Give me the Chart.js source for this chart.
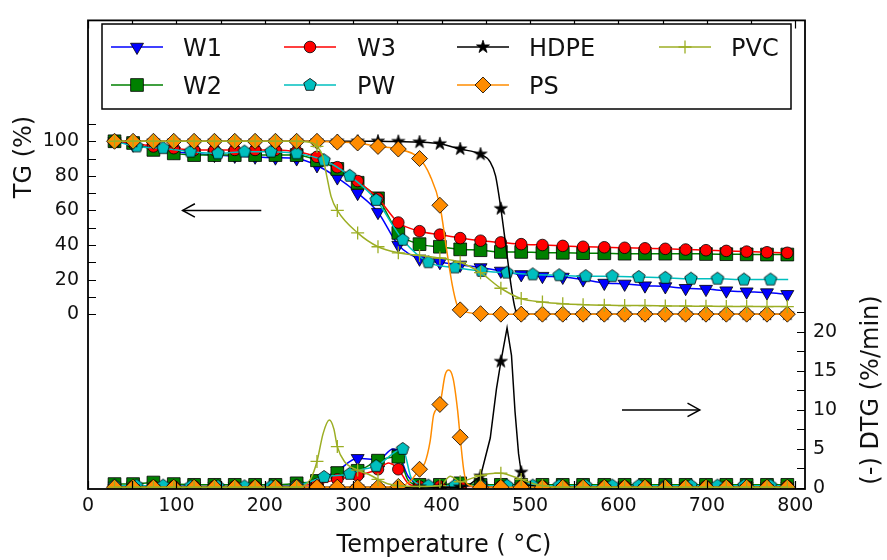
<!DOCTYPE html>
<html><head><meta charset="utf-8">
<script src="https://cdn.jsdelivr.net/npm/chart.js@4/dist/chart.umd.min.js"></script>
<style>html,body{margin:0;padding:0;background:#fff}#c{display:block}</style>
</head><body><canvas id="c" width="887" height="560"></canvas>
<script>
// ---------- data ----------
const X_TICKS = [0, 50, 100, 150, 200, 250, 300, 350, 400, 450, 500, 550, 600, 650, 700, 750, 800];
const TG_TICKS = [0, 10, 20, 30, 40, 50, 60, 70, 80, 90, 100, 110];
const DTG_TICKS = [0, 2.5, 5, 7.5, 10, 12.5, 15, 17.5, 20, 22.5];

const T_MARK = [30, 51, 74, 97, 120, 143, 166, 189, 212, 236, 259, 282, 305, 328, 351, 375, 398, 421, 444, 467, 490, 514, 537, 560, 584, 607, 630, 653, 676, 699, 722, 745, 768, 791];
const T_MARK_PW = [30, 55, 85, 116, 147, 177, 207, 236, 267, 296, 326, 356, 385, 415, 445, 474, 503, 533, 563, 593, 623, 653, 682, 712, 742, 772];

const W1_TG = [100, 98, 96, 94, 93, 92, 91.5, 91, 90.5, 90, 86, 79, 70, 59, 40, 32, 30, 28.5, 27, 25, 23, 22, 21.5, 20, 18, 17.5, 16.5, 16, 15, 14.5, 13.6, 13, 12.5, 11.5];
const W2_TG = [100, 99, 95, 93, 92, 92, 92, 92, 92, 92, 89, 84, 76, 67, 47, 40.5, 39, 37.5, 37, 36, 36, 35.5, 35.5, 35.3, 35.2, 35, 35, 35, 35, 34.8, 34.7, 34.6, 34.5, 34.5];
const W3_TG = [100, 99, 97, 96, 95, 95, 95, 95, 95, 94, 91, 85, 77, 67, 53, 48, 46, 44, 42.5, 41.5, 40.5, 40, 39.5, 39, 38.7, 38.4, 38.1, 37.8, 37.4, 37, 36.6, 36.2, 35.8, 35.5];
const PW_TG_T = [30, 55, 85, 116, 147, 177, 207, 236, 267, 296, 326, 356, 385, 415, 445, 474, 503, 533, 563, 593, 623, 653, 682, 712, 742, 772, 792];
const PW_TG = [100, 97, 96, 94, 93, 94, 94, 93, 89, 80, 66, 43, 30, 27, 25, 24, 23, 22.5, 22, 22, 21.5, 21, 20.5, 20.5, 20, 20, 20];
const HDPE_TG_T = [30, 51, 74, 97, 120, 143, 166, 189, 212, 236, 259, 282, 305, 328, 351, 375, 398, 421, 444, 455, 461, 467, 473, 479, 484, 490, 514, 537, 560, 584, 607, 630, 653, 676, 699, 722, 745, 768, 791];
const HDPE_TG = [100, 100, 100, 100, 100, 100, 100, 100, 100, 100, 100, 100, 100, 100, 99.8, 99.5, 98.5, 95.5, 92.5, 88, 80, 61, 38, 15, 2, 0.3, 0, 0, 0, 0, 0, 0, 0, 0, 0, 0, 0, 0, 0];
const PS_TG_T = [30, 51, 74, 97, 120, 143, 166, 189, 212, 236, 259, 282, 305, 328, 351, 375, 387, 398, 406, 412, 417, 421, 444, 467, 490, 514, 537, 560, 584, 607, 630, 653, 676, 699, 722, 745, 768, 791];
const PS_TG = [100, 100, 100, 100, 100, 100, 100, 100, 100, 100, 100, 99.5, 99, 97, 95.5, 90, 80, 63, 36, 17, 6, 2.5, 0.3, 0, 0, 0, 0, 0, 0, 0, 0, 0, 0, 0, 0, 0, 0, 0];
const PVC_TG_T = [30, 51, 74, 97, 120, 143, 166, 189, 212, 236, 254, 259, 265, 270, 275, 282, 305, 328, 351, 375, 398, 421, 444, 467, 490, 514, 537, 560, 584, 607, 630, 653, 676, 699, 722, 745, 768, 791];
const PVC_TG = [100, 100, 100, 100, 100, 100, 100, 100, 100, 100, 99, 97, 92, 80, 68, 60, 47, 39, 35.5, 34, 32.5, 30, 24, 15, 9, 7, 6, 5.5, 5.2, 5, 5, 4.8, 4.7, 4.6, 4.5, 4.5, 4.4, 4.4];

const W1_DTG_T = [30, 51, 74, 97, 120, 143, 166, 189, 212, 236, 259, 282, 305, 328, 345, 351, 362, 375, 398, 421, 444, 467, 490, 514, 537, 560, 584, 607, 630, 653, 676, 699, 722, 745, 768, 791];
const W1_DTG = [0.3, 0.3, 0.3, 0.3, 0.2, 0.2, 0.2, 0.2, 0.2, 0.4, 1.0, 2.2, 3.8, 3.6, 5.0, 4.5, 1.5, 0.5, 0.3, 0.3, 0.3, 0.2, 0.2, 0.2, 0.2, 0.2, 0.2, 0.2, 0.2, 0.2, 0.2, 0.2, 0.2, 0.2, 0.2, 0.2];
const W2_DTG_T = [30, 51, 74, 97, 120, 143, 166, 189, 212, 236, 259, 282, 305, 328, 351, 362, 375, 398, 421, 444, 467, 490, 514, 537, 560, 584, 607, 630, 653, 676, 699, 722, 745, 768, 791];
const W2_DTG = [0.5, 0.5, 0.7, 0.5, 0.4, 0.4, 0.4, 0.4, 0.4, 0.6, 0.9, 1.9, 2.2, 3.5, 4.0, 1.0, 0.4, 0.4, 0.6, 0.4, 0.4, 0.4, 0.4, 0.4, 0.4, 0.4, 0.4, 0.4, 0.4, 0.4, 0.4, 0.4, 0.4, 0.4, 0.4];
const W3_DTG_T = [30, 51, 74, 97, 120, 143, 166, 189, 212, 236, 259, 282, 305, 328, 340, 351, 362, 375, 398, 421, 444, 467, 490, 514, 537, 560, 584, 607, 630, 653, 676, 699, 722, 745, 768, 791];
const W3_DTG = [0.2, 0.2, 0.2, 0.2, 0.2, 0.2, 0.2, 0.2, 0.2, 0.3, 0.5, 1.1, 1.6, 2.4, 3.2, 2.4, 0.6, 0.2, 0.2, 0.2, 0.2, 0.2, 0.2, 0.2, 0.2, 0.2, 0.2, 0.2, 0.2, 0.2, 0.2, 0.2, 0.2, 0.2, 0.2, 0.2];
const PW_DTG_T = [30, 55, 85, 116, 147, 177, 207, 236, 267, 296, 311, 326, 356, 366, 385, 415, 445, 474, 503, 533, 563, 593, 623, 653, 682, 712, 742, 772, 792];
const PW_DTG = [0.3, 0.3, 0.3, 0.2, 0.2, 0.2, 0.2, 0.3, 1.4, 1.8, 2.4, 2.8, 5.0, 1.2, 0.3, 0.3, 0.3, 0.3, 0.3, 0.3, 0.3, 0.3, 0.3, 0.3, 0.3, 0.3, 0.3, 0.3, 0.3];
const HDPE_DTG_T = [30, 51, 74, 97, 120, 143, 166, 189, 212, 236, 259, 282, 305, 328, 351, 375, 398, 421, 430, 444, 455, 462, 467, 474, 479, 483, 487, 490, 496, 514, 537, 560, 584, 607, 630, 653, 676, 699, 722, 745, 768, 791];
const HDPE_DTG = [0.1, 0.1, 0.1, 0.1, 0.1, 0.1, 0.1, 0.1, 0.1, 0.1, 0.1, 0.1, 0.1, 0.1, 0.1, 0.1, 0.1, 0.1, 0.3, 1.5, 6.4, 12.7, 16.2, 20.5, 17, 9.8, 4.4, 2.0, 0.4, 0.1, 0.1, 0.1, 0.1, 0.1, 0.1, 0.1, 0.1, 0.1, 0.1, 0.1, 0.1, 0.1];
const PS_DTG_T = [30, 51, 74, 97, 120, 143, 166, 189, 212, 236, 259, 282, 305, 328, 351, 364, 375, 381, 387, 391, 398, 404, 408, 413, 418, 421, 425, 429, 444, 467, 490, 514, 537, 560, 584, 607, 630, 653, 676, 699, 722, 745, 768, 791];
const PS_DTG = [0.1, 0.1, 0.1, 0.1, 0.1, 0.1, 0.1, 0.1, 0.1, 0.1, 0.1, 0.1, 0.1, 0.1, 0.2, 0.8, 2.4, 3.2, 6.0, 9.4, 10.7, 14.5, 15.1, 14.0, 10.0, 6.5, 2.3, 0.5, 0.1, 0.1, 0.1, 0.1, 0.1, 0.1, 0.1, 0.1, 0.1, 0.1, 0.1, 0.1, 0.1, 0.1, 0.1, 0.1];
const PVC_DTG_T = [30, 51, 74, 97, 120, 143, 166, 189, 212, 236, 245, 252, 259, 266, 273, 278, 282, 290, 305, 320, 328, 340, 351, 375, 398, 410, 421, 433, 444, 460, 467, 475, 490, 505, 514, 537, 560, 584, 607, 630, 653, 676, 699, 722, 745, 768, 791];
const PVC_DTG = [0.1, 0.1, 0.1, 0.1, 0.1, 0.1, 0.1, 0.1, 0.1, 0.1, 0.3, 1.2, 3.4, 7.0, 8.7, 7.6, 5.3, 3.4, 2.3, 1.6, 1.1, 0.5, 0.3, 0.2, 0.3, 1.5, 0.8, 1.2, 1.6, 1.9, 1.9, 1.7, 1.1, 0.5, 0.3, 0.1, 0.1, 0.1, 0.1, 0.1, 0.1, 0.1, 0.1, 0.1, 0.1, 0.1, 0.1];

const LABELS = ['W1', 'W2', 'W3', 'PW', 'HDPE', 'PS', 'PVC'];

// ---------- styling ----------
const FONT = "'DejaVu Sans', 'Liberation Sans', sans-serif";
const COLORS = {W1: '#0000ff', W2: '#008000', W3: '#ff0000', PW: '#00bfbf', HDPE: '#000000', PS: '#ff8c00', PVC: '#9cae24'};

function shapePath(g, shape, x, y) {
  g.beginPath();
  if (shape === 'pentagon') {
    const R = 6.6;
    for (let k = 0; k < 5; k++) {
      const a = -Math.PI / 2 + k * 2 * Math.PI / 5;
      const px = x + R * Math.cos(a), py = y + R * Math.sin(a);
      if (k) g.lineTo(px, py); else g.moveTo(px, py);
    }
    g.closePath();
  } else if (shape === 'star') {
    const R = 6.8, r = R * 0.382;
    for (let k = 0; k < 10; k++) {
      const a = -Math.PI / 2 + k * Math.PI / 5;
      const rr = k % 2 ? r : R;
      const px = x + rr * Math.cos(a), py = y + rr * Math.sin(a);
      if (k) g.lineTo(px, py); else g.moveTo(px, py);
    }
    g.closePath();
  }
}
function makeImg(shape, fill) {
  const c = document.createElement('canvas');
  c.width = 18; c.height = 18;
  const g = c.getContext('2d');
  shapePath(g, shape, 9, 9);
  g.fillStyle = fill; g.fill();
  g.lineWidth = 0.8; g.strokeStyle = '#000'; g.stroke();
  return c;
}
const PENT = makeImg('pentagon', COLORS.PW);
const STAR = makeImg('star', COLORS.HDPE);

const SERIES = [
  {label: 'W1', style: 'triangle', rot: 180, r: 7.5, markT: T_MARK, tgT: T_MARK, tgV: W1_TG, dT: W1_DTG_T, dV: W1_DTG},
  {label: 'W2', style: 'rect', rot: 0, r: 9.0, markT: T_MARK, tgT: T_MARK, tgV: W2_TG, dT: W2_DTG_T, dV: W2_DTG},
  {label: 'W3', style: 'circle', rot: 0, r: 5.8, markT: T_MARK, tgT: T_MARK, tgV: W3_TG, dT: W3_DTG_T, dV: W3_DTG},
  {label: 'PW', style: PENT, rot: 0, r: 6, markT: T_MARK_PW, tgT: PW_TG_T, tgV: PW_TG, dT: PW_DTG_T, dV: PW_DTG},
  {label: 'HDPE', style: STAR, rot: 0, r: 6, markT: T_MARK, tgT: HDPE_TG_T, tgV: HDPE_TG, dT: HDPE_DTG_T, dV: HDPE_DTG, sharp: true},
  {label: 'PS', style: 'rectRot', rot: 0, r: 8.0, markT: T_MARK, tgT: PS_TG_T, tgV: PS_TG, dT: PS_DTG_T, dV: PS_DTG},
  {label: 'PVC', style: 'cross', rot: 0, r: 6.5, markT: T_MARK, tgT: PVC_TG_T, tgV: PVC_TG, dT: PVC_DTG_T, dV: PVC_DTG, open: true}
];

const datasets = [];
let drawIdx = 0;
['tg', 'dtg'].forEach(kind => {
  SERIES.forEach(s => {
    const col = COLORS[s.label];
    const xs = kind === 'tg' ? s.tgT : s.dT;
    const vs = kind === 'tg' ? s.tgV : s.dV;
    const marks = new Set(s.markT);
    const isMark = c => c.raw && marks.has(c.raw.x);
    datasets.push({
      label: s.label + (kind === 'tg' ? '' : ' DTG'),
      data: xs.map((t, i) => ({x: t, y: vs[i]})),
      yAxisID: kind === 'tg' ? 'y' : 'y2',
      borderColor: col,
      borderWidth: 1.5,
      backgroundColor: col,
      fill: false,
      cubicInterpolationMode: (kind === 'dtg' && s.sharp) ? 'default' : 'monotone',
      tension: 0,
      pointStyle: c => isMark(c) ? s.style : 'circle',
      pointRadius: c => isMark(c) ? s.r : 0,
      pointRotation: s.rot,
      pointBackgroundColor: col,
      pointBorderColor: s.open ? col : '#000',
      pointBorderWidth: s.open ? 1.3 : 0.8,
      pointHoverRadius: 0,
      clip: 0,
      order: 1000 - drawIdx
    });
    drawIdx++;
  });
});

function drawLegendMarker(g, s, x, y) {
  const col = COLORS[s.label];
  g.save();
  g.fillStyle = col; g.strokeStyle = s.open ? col : '#000'; g.lineWidth = s.open ? 1.3 : 0.8;
  if (s.style === PENT || s.style === STAR) {
    g.drawImage(s.style, x - 9, y - 9);
  } else {
    g.beginPath();
    const r = s.r;
    if (s.style === 'circle') g.arc(x, y, r, 0, Math.PI * 2);
    else if (s.style === 'rect') { const h = r * Math.SQRT1_2; g.rect(x - h, y - h, 2 * h, 2 * h); }
    else if (s.style === 'rectRot') { g.moveTo(x - r, y); g.lineTo(x, y - r); g.lineTo(x + r, y); g.lineTo(x, y + r); g.closePath(); }
    else if (s.style === 'triangle') {
      let a = Math.PI;
      g.moveTo(x + Math.sin(a) * r, y - Math.cos(a) * r); a += 2 * Math.PI / 3;
      g.lineTo(x + Math.sin(a) * r, y - Math.cos(a) * r); a += 2 * Math.PI / 3;
      g.lineTo(x + Math.sin(a) * r, y - Math.cos(a) * r); g.closePath();
    } else if (s.style === 'cross') { g.moveTo(x - r, y); g.lineTo(x + r, y); g.moveTo(x, y - r); g.lineTo(x, y + r); }
    if (s.style !== 'cross') g.fill();
    g.stroke();
  }
  g.restore();
}

function arrow(g, x1, y1, x2, y2) {
  g.save();
  g.strokeStyle = '#000'; g.lineWidth = 1.5;
  g.beginPath(); g.moveTo(x1, y1); g.lineTo(x2, y2); g.stroke();
  const ang = Math.atan2(y2 - y1, x2 - x1);
  const L = 14, a = 0.5;
  g.beginPath();
  g.moveTo(x2 - L * Math.cos(ang - a), y2 - L * Math.sin(ang - a));
  g.lineTo(x2, y2);
  g.lineTo(x2 - L * Math.cos(ang + a), y2 - L * Math.sin(ang + a));
  g.stroke();
  g.restore();
}

const decor = {
  id: 'decor',
  afterDraw(chart) {
    const g = chart.ctx, A = chart.chartArea;
    const sx = chart.scales.x, sy = chart.scales.y, sy2 = chart.scales.y2;
    g.save();
    // inward ticks
    g.strokeStyle = '#000'; g.lineWidth = 1.2;
    g.beginPath();
    sx.ticks.forEach(t => { const p = Math.round(sx.getPixelForValue(t.value)) + 0.5;
      g.moveTo(p, A.bottom); g.lineTo(p, A.bottom - 8); g.moveTo(p, A.top); g.lineTo(p, A.top + 8); });
    sy.ticks.forEach(t => { const p = Math.round(sy.getPixelForValue(t.value)) + 0.5;
      g.moveTo(A.left, p); g.lineTo(A.left + 8, p); });
    sy2.ticks.forEach(t => { const p = Math.round(sy2.getPixelForValue(t.value)) + 0.5;
      g.moveTo(A.right, p); g.lineTo(A.right - 8, p); });
    g.stroke();
    // frame
    g.lineWidth = 1.8;
    g.strokeRect(A.left, A.top, A.right - A.left, A.bottom - A.top);
    // arrows
    arrow(g, sx.getPixelForValue(196), sy.getPixelForValue(60), sx.getPixelForValue(107), sy.getPixelForValue(60));
    arrow(g, sx.getPixelForValue(604), sy2.getPixelForValue(10), sx.getPixelForValue(692), sy2.getPixelForValue(10));
    // legend
    g.fillStyle = '#fff';
    g.fillRect(102, 24, 689, 85);
    g.lineWidth = 1.5; g.strokeStyle = '#000';
    g.strokeRect(102, 24, 689, 85);
    const colM = [137, 310, 483, 685], colT = [183, 357, 529, 731], rowY = [47, 85];
    g.font = '24px ' + FONT; g.textAlign = 'left'; g.textBaseline = 'alphabetic';
    SERIES.forEach((s, i) => {
      const c = Math.floor(i / 2), r = i % 2;
      const mx = colM[c], y = rowY[r];
      g.strokeStyle = COLORS[s.label]; g.lineWidth = 1.5;
      g.beginPath(); g.moveTo(mx - 26, y); g.lineTo(mx + 26, y); g.stroke();
      drawLegendMarker(g, s, mx, y);
      g.fillStyle = '#111';
      g.fillText(s.label, colT[c], y + 8.5);
    });
    // axis titles
    g.fillStyle = '#111';
    g.font = '24px ' + FONT;
    g.textAlign = 'center'; g.textBaseline = 'alphabetic';
    g.fillText('Temperature ( \u00B0C)', 444, 552);
    g.textBaseline = 'middle';
    g.save(); g.translate(25, 157); g.rotate(-Math.PI / 2); g.fillText('TG (%)', 0, 0); g.restore();
    g.save(); g.translate(872, 390); g.rotate(-Math.PI / 2); g.fillText('(-) DTG (%/min)', 0, 0); g.restore();
    g.restore();
  }
};

const tickFont = {family: FONT, size: 19};
new Chart(document.getElementById('c'), {
  type: 'line',
  data: {datasets},
  options: {
    responsive: false,
    animation: false,
    devicePixelRatio: 1,
    events: [],
    layout: {padding: {top: 12, left: 0, right: 0, bottom: 0}},
    plugins: {legend: {display: false}, tooltip: {enabled: false}},
    scales: {
      x: {
        type: 'linear', min: 0, max: 811,
        afterBuildTicks: s => { s.ticks = X_TICKS.map(v => ({value: v})); },
        afterFit: s => { s.height = 71; },
        ticks: {autoSkip: false, maxRotation: 0, font: tickFont, color: '#111', padding: 6,
          callback: v => (v % 100 === 0 ? String(v) : '')},
        grid: {display: false, drawTicks: false},
        border: {display: false}
      },
      y: {
        type: 'linear', position: 'left', min: -101.1, max: 169.9,
        afterBuildTicks: s => { s.ticks = TG_TICKS.map(v => ({value: v})); },
        afterFit: s => { s.width = 88; },
        ticks: {autoSkip: false, font: tickFont, color: '#111', padding: 9,
          callback: v => (v % 20 === 0 && v <= 100 ? String(v) : '')},
        grid: {display: false, drawTicks: false},
        border: {display: false}
      },
      y2: {
        type: 'linear', position: 'right', min: -0.13, max: 59.9,
        afterBuildTicks: s => { s.ticks = DTG_TICKS.map(v => ({value: v})); },
        afterFit: s => { s.width = 82; },
        ticks: {autoSkip: false, font: tickFont, color: '#111', padding: 8,
          callback: v => (v % 5 === 0 ? String(v) : '')},
        grid: {display: false, drawTicks: false},
        border: {display: false}
      }
    }
  },
  plugins: [decor]
});
</script></body></html>
